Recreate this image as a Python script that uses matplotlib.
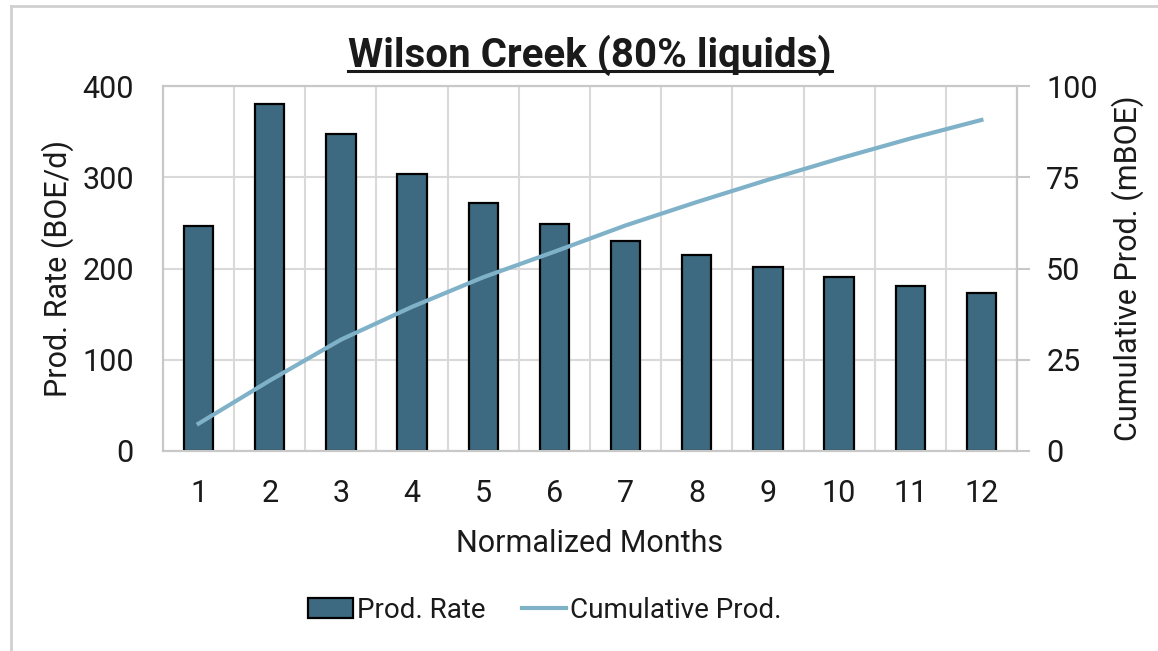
import matplotlib
matplotlib.use("Agg")
import matplotlib.pyplot as plt
from matplotlib.lines import Line2D
from matplotlib.patches import Patch
import numpy as np

months = ["1", "2", "3", "4", "5", "6", "7", "8", "9", "10", "11", "12"]
prod_rate = [247, 380, 347, 304, 272, 249, 230, 215, 202, 191, 181, 173]
cum_prod = [7.5, 19.3, 30.5, 39.5, 47.6, 54.6, 61.8, 68.2, 74.3, 80.1, 85.6, 90.7]
left_ticks = [0, 100, 200, 300, 400]
right_ticks = [0, 25, 50, 75, 100]

plt.rcParams['font.family'] = ['Roboto', 'DejaVu Sans']

BAR = "#3d6a80"
LINE = "#7fb2c8"
GRID = "#d9d9d9"
SPINE = "#c8c8c8"
TXT = "#1a1a1a"
FS = 22

fig = plt.figure(figsize=(11.58, 6.51), dpi=100)
ax = fig.add_axes([163/1158, 1-451/651, 854/1158, 365/651])
x = np.arange(len(months))

ax.bar(x, prod_rate, width=0.41, color=BAR, edgecolor="black", linewidth=1.6, zorder=3, label="Prod. Rate")
ax.set_xlim(-0.5, len(months)-0.5)
ax.set_ylim(0, 400)
ax.set_yticks(left_ticks)
ax.set_xticks(x)
ax.set_xticklabels(months)
ax.set_xticks(np.arange(-0.5, len(months), 1), minor=True)
ax.grid(True, which="minor", axis="x", color=GRID, linewidth=1.5, zorder=0)
ax.grid(True, which="major", axis="y", color=GRID, linewidth=1.5, zorder=0)
ax.tick_params(axis="both", which="both", length=0, labelsize=FS, labelcolor=TXT)
ax.tick_params(axis="x", pad=20)
ax.tick_params(axis="y", pad=21)
for s in ax.spines.values():
    s.set_color(SPINE)
    s.set_linewidth(1.5)
ax.set_xlabel("Normalized Months", fontsize=FS, color=TXT, labelpad=15)
ax.set_ylabel("Prod. Rate (BOE/d)", fontsize=FS, color=TXT, labelpad=6)

ax2 = ax.twinx()
ax2.plot(x, cum_prod, color=LINE, linewidth=3, zorder=4, label="Cumulative Prod.")
ax2.set_ylim(0, 100)
ax2.set_yticks(right_ticks)
ax2.tick_params(axis="y", length=9, width=1.5, color=SPINE, labelsize=FS, labelcolor=TXT, pad=12)
for s in ax2.spines.values():
    s.set_color(SPINE)
    s.set_linewidth(1.5)
ax2.set_ylabel("Cumulative Prod. (mBOE)", fontsize=FS, color=TXT, labelpad=10)

title = fig.text(590/1158, 1-67/651, "Wilson Creek (80% liquids)", ha="center", va="baseline",
                 fontsize=29, fontweight="bold", color=TXT)

handles = [Patch(facecolor=BAR, edgecolor="black", linewidth=1.6),
           Line2D([0], [0], color=LINE, linewidth=3)]
fig.legend(handles, ["Prod. Rate", "Cumulative Prod."], loc="center",
           bbox_to_anchor=(545/1158, 1-610/651), ncol=2, frameon=False, fontsize=20,
           handlelength=1.6, handletextpad=0.15, columnspacing=1.3, labelcolor=TXT)

# chart border
fig.add_artist(Line2D([11/1158, 11/1158], [0, 1-6/651], color="#d0d0d0", linewidth=2))
fig.add_artist(Line2D([11/1158, 1], [1-6/651, 1-6/651], color="#d0d0d0", linewidth=2))

fig.canvas.draw()
bb = title.get_window_extent(fig.canvas.get_renderer())
inv = fig.transFigure.inverted()
(x0, y0), (x1, y1) = inv.transform([(bb.x0, bb.y0), (bb.x1, bb.y1)])
fig.add_artist(Line2D([x0, x1], [1-71/651, 1-71/651], color=TXT, linewidth=2.2))

fig.savefig("out.png", dpi=100)
